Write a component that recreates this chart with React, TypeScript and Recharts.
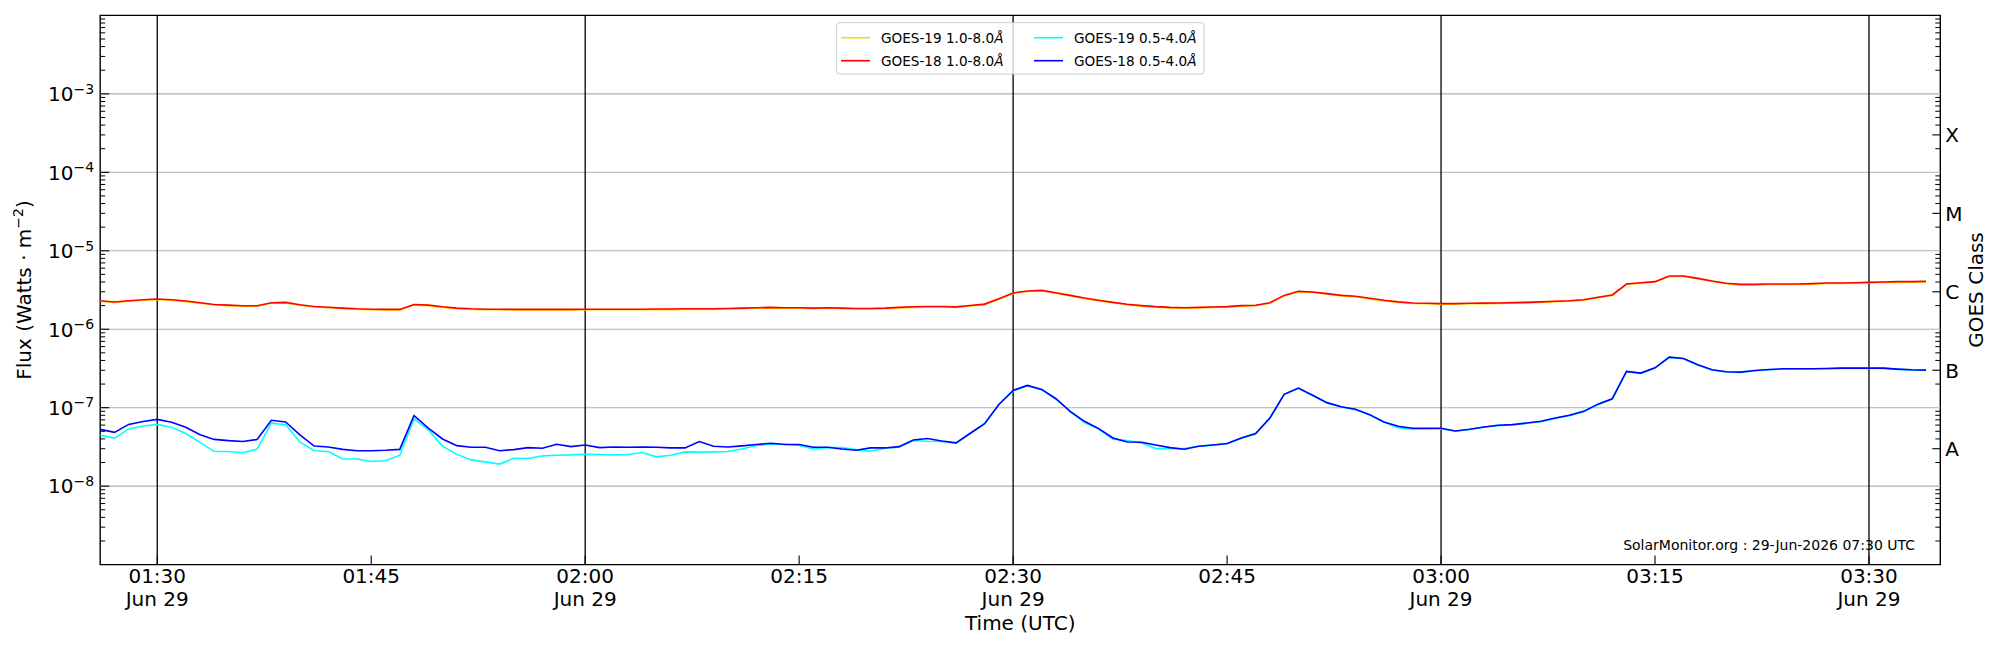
import React from 'react';
import { LineChart, Line, XAxis, YAxis, ReferenceLine, ReferenceArea } from 'recharts';

const FONT = '"DejaVu Sans", "Liberation Sans", sans-serif';

// minutes after 00:00 UTC, 29 Jun; one sample per minute from 01:26
const START_MINUTE = 86;
const X_DOMAIN: [number, number] = [86, 215];

// GOES-19 1.0-8.0 Å, units of 1e-6 W m^-2
const goes19Long = [
  2.27, 2.19, 2.27, 2.34, 2.39, 2.34, 2.25, 2.14, 2.04, 2.0,
  1.96, 1.96, 2.14, 2.16, 2.02, 1.92, 1.88, 1.83, 1.79, 1.77,
  1.76, 1.76, 2.03, 2.0, 1.9, 1.83, 1.79, 1.77, 1.77, 1.76,
  1.76, 1.76, 1.76, 1.76, 1.77, 1.77, 1.77, 1.77, 1.77, 1.78,
  1.78, 1.79, 1.79, 1.79, 1.81, 1.83, 1.85, 1.87, 1.85, 1.85,
  1.83, 1.85, 1.83, 1.81, 1.81, 1.83, 1.87, 1.9, 1.92, 1.92,
  1.9, 1.98, 2.06, 2.41, 2.86, 3.03, 3.09, 2.88, 2.66, 2.46,
  2.3, 2.17, 2.05, 1.97, 1.91, 1.87, 1.85, 1.87, 1.89, 1.91,
  1.97, 1.99, 2.14, 2.66, 3.0, 2.94, 2.8, 2.66, 2.59, 2.44,
  2.3, 2.2, 2.13, 2.11, 2.09, 2.09, 2.11, 2.12, 2.13, 2.15,
  2.17, 2.2, 2.24, 2.28, 2.35, 2.52, 2.7, 3.72, 3.87, 3.99,
  4.71, 4.71, 4.4, 4.06, 3.8, 3.68, 3.68, 3.72, 3.72, 3.72,
  3.76, 3.83, 3.83, 3.87, 3.91, 3.95, 3.99, 3.99, 4.02,
];

// GOES-18 1.0-8.0 Å, units of 1e-6 W m^-2
const goes18Long = [
  2.31, 2.22, 2.31, 2.38, 2.43, 2.38, 2.29, 2.18, 2.07, 2.03,
  1.99, 1.99, 2.18, 2.2, 2.05, 1.95, 1.91, 1.86, 1.82, 1.8,
  1.79, 1.79, 2.07, 2.03, 1.93, 1.86, 1.82, 1.8, 1.8, 1.79,
  1.79, 1.79, 1.79, 1.79, 1.8, 1.8, 1.8, 1.8, 1.8, 1.81,
  1.81, 1.82, 1.82, 1.82, 1.84, 1.86, 1.88, 1.9, 1.88, 1.88,
  1.86, 1.88, 1.86, 1.84, 1.84, 1.86, 1.9, 1.93, 1.95, 1.95,
  1.93, 2.01, 2.09, 2.45, 2.9, 3.07, 3.13, 2.92, 2.7, 2.5,
  2.34, 2.2, 2.08, 2.0, 1.94, 1.9, 1.88, 1.9, 1.92, 1.94,
  2.0, 2.02, 2.18, 2.7, 3.04, 2.98, 2.84, 2.7, 2.63, 2.48,
  2.34, 2.23, 2.16, 2.14, 2.12, 2.12, 2.14, 2.15, 2.16, 2.18,
  2.2, 2.23, 2.27, 2.31, 2.38, 2.55, 2.73, 3.77, 3.92, 4.04,
  4.76, 4.76, 4.45, 4.11, 3.85, 3.73, 3.73, 3.77, 3.77, 3.77,
  3.81, 3.88, 3.88, 3.92, 3.96, 4.0, 4.04, 4.04, 4.07,
];

// GOES-19 0.5-4.0 Å, units of 1e-8 W m^-2
const goes19Short = [
  4.46, 4.09, 5.36, 5.83, 6.12, 5.62, 4.68, 3.62, 2.76, 2.76,
  2.67, 2.97, 6.35, 6.05, 3.66, 2.83, 2.76, 2.22, 2.22, 2.06,
  2.11, 2.48, 7.18, 5.2, 3.24, 2.54, 2.16, 2.04, 1.91, 2.27,
  2.25, 2.43, 2.48, 2.5, 2.55, 2.53, 2.5, 2.53, 2.68, 2.36,
  2.48, 2.73, 2.71, 2.73, 2.76, 2.98, 3.29, 3.45, 3.42, 3.29,
  2.98, 3.1, 3.1, 2.92, 2.79, 3.04, 3.13, 3.81, 3.73, 3.7,
  3.52, 4.72, 6.26, 11.0, 16.4, 19.0, 17.0, 12.9, 8.9, 6.45,
  5.35, 3.96, 3.81, 3.56, 3.01, 3.01, 3.01, 3.22, 3.33, 3.47,
  4.08, 4.63, 7.33, 14.7, 17.7, 14.3, 11.5, 10.2, 9.45, 8.08,
  6.5, 5.57, 5.31, 5.31, 5.4, 5.02, 5.27, 5.63, 5.9, 6.02,
  6.32, 6.62, 7.3, 7.92, 8.9, 11.0, 12.9, 28.8, 27.4, 32.0,
  43.8, 42.1, 35.0, 30.2, 28.5, 28.2, 29.6, 30.5, 31.1, 31.1,
  31.1, 31.4, 31.7, 31.7, 31.7, 31.7, 30.8, 30.2, 29.9,
];

// GOES-18 0.5-4.0 Å, units of 1e-8 W m^-2
const goes18Short = [
  5.29, 4.85, 6.12, 6.68, 7.1, 6.52, 5.62, 4.51, 3.94, 3.8,
  3.71, 3.94, 6.92, 6.59, 4.51, 3.24, 3.16, 2.94, 2.83, 2.83,
  2.87, 2.94, 7.92, 5.49, 3.99, 3.28, 3.13, 3.13, 2.83, 2.92,
  3.1, 3.04, 3.42, 3.19, 3.35, 3.1, 3.16, 3.13, 3.16, 3.13,
  3.07, 3.07, 3.7, 3.22, 3.16, 3.26, 3.39, 3.52, 3.39, 3.39,
  3.13, 3.13, 2.98, 2.87, 3.07, 3.07, 3.19, 3.88, 4.04, 3.77,
  3.56, 4.72, 6.26, 11.0, 16.6, 19.2, 17.1, 13.0, 8.98, 6.7,
  5.41, 4.11, 3.66, 3.62, 3.35, 3.1, 2.95, 3.22, 3.35, 3.49,
  4.11, 4.67, 7.39, 14.8, 17.8, 14.4, 11.6, 10.3, 9.53, 8.15,
  6.57, 5.79, 5.46, 5.46, 5.46, 5.05, 5.31, 5.68, 5.96, 6.08,
  6.38, 6.7, 7.39, 8.0, 8.98, 11.1, 13.0, 29.0, 27.6, 32.2,
  44.1, 42.4, 35.2, 30.4, 28.7, 28.4, 29.8, 30.7, 31.3, 31.3,
  31.3, 31.6, 31.9, 31.9, 31.9, 31.9, 31.0, 30.4, 30.1,
];

const LONG_UNIT = 1e-6;
const SHORT_UNIT = 1e-8;

// x ticks
const timeTicks = [90, 105, 120, 135, 150, 165, 180, 195, 210];
const timeTickLabels = ['01:30', '01:45', '02:00', '02:15', '02:30', '02:45', '03:00', '03:15', '03:30'];
const dateTickLabels = ['Jun 29', '', 'Jun 29', '', 'Jun 29', '', 'Jun 29', '', 'Jun 29'];
const halfHourLines = [90, 120, 150, 180, 210];

// y ticks
const Y_DOMAIN: [number, number] = [1e-9, 1e-2];
const decades = [1e-8, 1e-7, 1e-6, 1e-5, 1e-4, 1e-3];
const decadeExponents = ['\u22128', '\u22127', '\u22126', '\u22125', '\u22124', '\u22123'];
const minorDecades = [1e-9, 1e-8, 1e-7, 1e-6, 1e-5, 1e-4, 1e-3];
const minorMultipliers = [2, 3, 4, 5, 6, 7, 8, 9];
const classTicks = [3e-8, 3e-7, 3e-6, 3e-5, 3e-4];
const classLabels = ['A', 'B', 'C', 'M', 'X'];

const minorTicks = minorDecades.flatMap((d) => minorMultipliers.map((m) => m * d));
const leftTicks = [...decades, ...minorTicks].sort((a, b) => a - b);
const rightTicks = [...minorTicks].sort((a, b) => a - b);

const rows = goes18Long.map((_, i) => ({
  t: START_MINUTE + i,
  g19l: goes19Long[i] * LONG_UNIT,
  g18l: goes18Long[i] * LONG_UNIT,
  g19s: goes19Short[i] * SHORT_UNIT,
  g18s: goes18Short[i] * SHORT_UNIT,
}));

const near = (a: number, b: number) => Math.abs(a - b) / b < 1e-6;

const LeftTick = (props: any) => {
  const { x, y, payload } = props;
  const idx = decades.findIndex((d) => near(payload.value, d));
  if (idx < 0) {
    return <line x1={x} x2={x + 5} y1={y} y2={y} stroke="#000" strokeWidth={1} />;
  }
  return (
    <g>
      <line x1={x} x2={x + 9} y1={y} y2={y} stroke="#000" strokeWidth={1.1} />
      <text x={x - 6} y={y + 7.3} textAnchor="end" fontSize={20} fontFamily={FONT} fill="#000">
        10
        <tspan fontSize={14} dy={-7.5}>{decadeExponents[idx]}</tspan>
      </text>
    </g>
  );
};

const RightTick = (props: any) => {
  const { x, y, payload } = props;
  const idx = classTicks.findIndex((d) => near(payload.value, d));
  if (idx < 0) {
    return <line x1={x} x2={x - 5} y1={y} y2={y} stroke="#000" strokeWidth={1} />;
  }
  return (
    <g>
      <line x1={x} x2={x - 8} y1={y} y2={y} stroke="#000" strokeWidth={1.1} />
      <text x={x + 5} y={y + 7.3} textAnchor="start" fontSize={20} fontFamily={FONT} fill="#000">
        {classLabels[idx]}
      </text>
    </g>
  );
};

const TimeTick = (props: any) => {
  const { x, y, payload } = props;
  const idx = timeTicks.indexOf(payload.value);
  return (
    <g>
      <line x1={x} x2={x} y1={y} y2={y - 9} stroke="#000" strokeWidth={1.1} />
      <text x={x} y={y + 18.7} textAnchor="middle" fontSize={20} fontFamily={FONT} fill="#000">
        {timeTickLabels[idx]}
      </text>
      {dateTickLabels[idx] ? (
        <text x={x} y={y + 41} textAnchor="middle" fontSize={20} fontFamily={FONT} fill="#000">
          {dateTickLabels[idx]}
        </text>
      ) : null}
    </g>
  );
};

const legendItems = [
  { name: 'GOES-19 1.0-8.0', color: '#FFD700', col: 0, row: 0 },
  { name: 'GOES-18 1.0-8.0', color: '#FF0000', col: 0, row: 1 },
  { name: 'GOES-19 0.5-4.0', color: '#00FFFF', col: 1, row: 0 },
  { name: 'GOES-18 0.5-4.0', color: '#0000FF', col: 1, row: 1 },
];

const Overlay = () => (
  <svg
    width={2000}
    height={650}
    style={{ position: 'absolute', left: 0, top: 0, pointerEvents: 'none' }}
  >
    {/* legend */}
    <rect x={836.7} y={22.7} width={367.3} height={51.3} rx={3} fill="#fff" fillOpacity={0.8} stroke="#cccccc" strokeWidth={1} />
    {legendItems.map((it) => {
      const lx = it.col === 0 ? 841 : 1034;
      const cy = it.row === 0 ? 37.7 : 60.7;
      return (
        <g key={it.name}>
          <line x1={lx} x2={lx + 29} y1={cy} y2={cy} stroke={it.color} strokeWidth={1.6} />
          <text x={lx + 40} y={cy + 4.8} fontSize={13.6} fontFamily={FONT} fill="#000">
            {it.name}
            <tspan fontStyle="italic">Å</tspan>
          </text>
        </g>
      );
    })}
    {/* axis titles */}
    <text transform="translate(31,290) rotate(-90)" textAnchor="middle" fontSize={20} fontFamily={FONT} fill="#000">
      Flux (Watts · m
      <tspan fontSize={14} dy={-8}>{'\u22122'}</tspan>
      <tspan dy={8}>)</tspan>
    </text>
    <text transform="translate(1983,290) rotate(-90)" textAnchor="middle" fontSize={20} fontFamily={FONT} fill="#000">
      GOES Class
    </text>
    <text x={1020.25} y={629.5} textAnchor="middle" fontSize={20} fontFamily={FONT} fill="#000">
      Time (UTC)
    </text>
    <text x={1915} y={550} textAnchor="end" fontSize={14} fontFamily={FONT} fill="#000">
      SolarMonitor.org : 29-Jun-2026 07:30 UTC
    </text>
  </svg>
);

const LW = 60;
const RW = 40;
const XH = 60;
const PLOT = { left: 100.2, right: 1940.3, top: 15.4, bottom: 564.6 };

export default function App() {
  return (
    <div style={{ position: 'relative', width: 2000, height: 650, margin: '-8px 0 0 -8px', background: '#fff' }}>
      <LineChart
        width={2000}
        height={650}
        data={rows}
        margin={{
          top: PLOT.top,
          left: PLOT.left - LW,
          right: 2000 - PLOT.right - RW,
          bottom: 650 - PLOT.bottom - XH,
        }}
      >
        <XAxis
          dataKey="t"
          type="number"
          domain={X_DOMAIN}
          allowDataOverflow
          ticks={timeTicks}
          interval={0}
          tickSize={0}
          tickMargin={0}
          tickLine={false}
          axisLine={false}
          height={XH}
          tick={(p: any) => <TimeTick {...p} />}
        />
        <YAxis
          yAxisId="left"
          scale="log"
          domain={Y_DOMAIN}
          allowDataOverflow
          ticks={leftTicks}
          interval={0}
          tickSize={0}
          tickMargin={0}
          tickLine={false}
          axisLine={false}
          width={LW}
          tick={(p: any) => <LeftTick {...p} />}
        />
        <YAxis
          yAxisId="right"
          orientation="right"
          scale="log"
          domain={Y_DOMAIN}
          allowDataOverflow
          ticks={rightTicks}
          interval={0}
          tickSize={0}
          tickMargin={0}
          tickLine={false}
          axisLine={false}
          width={RW}
          tick={(p: any) => <RightTick {...p} />}
        />
        {decades.map((d) => (
          <ReferenceLine key={'g' + d} yAxisId="left" y={d} stroke="#b0b0b0" strokeWidth={1.1} />
        ))}
        {halfHourLines.map((v) => (
          <ReferenceLine key={'v' + v} yAxisId="left" x={v} stroke="#000" strokeWidth={1.3} />
        ))}
        <Line yAxisId="left" type="linear" dataKey="g19l" stroke="#FFD700" strokeWidth={1.6} dot={false} activeDot={false} isAnimationActive={false} />
        <Line yAxisId="left" type="linear" dataKey="g18l" stroke="#FF0000" strokeWidth={1.6} dot={false} activeDot={false} isAnimationActive={false} />
        <Line yAxisId="left" type="linear" dataKey="g19s" stroke="#00FFFF" strokeWidth={1.6} dot={false} activeDot={false} isAnimationActive={false} />
        <Line yAxisId="left" type="linear" dataKey="g18s" stroke="#0000FF" strokeWidth={1.6} dot={false} activeDot={false} isAnimationActive={false} />
        <ReferenceArea
          yAxisId="left"
          x1={X_DOMAIN[0]}
          x2={X_DOMAIN[1]}
          y1={Y_DOMAIN[0]}
          y2={Y_DOMAIN[1]}
          fill="none"
          stroke="#000"
          strokeWidth={1.4}
          ifOverflow="visible"
        />
      </LineChart>
      <Overlay />
    </div>
  );
}
